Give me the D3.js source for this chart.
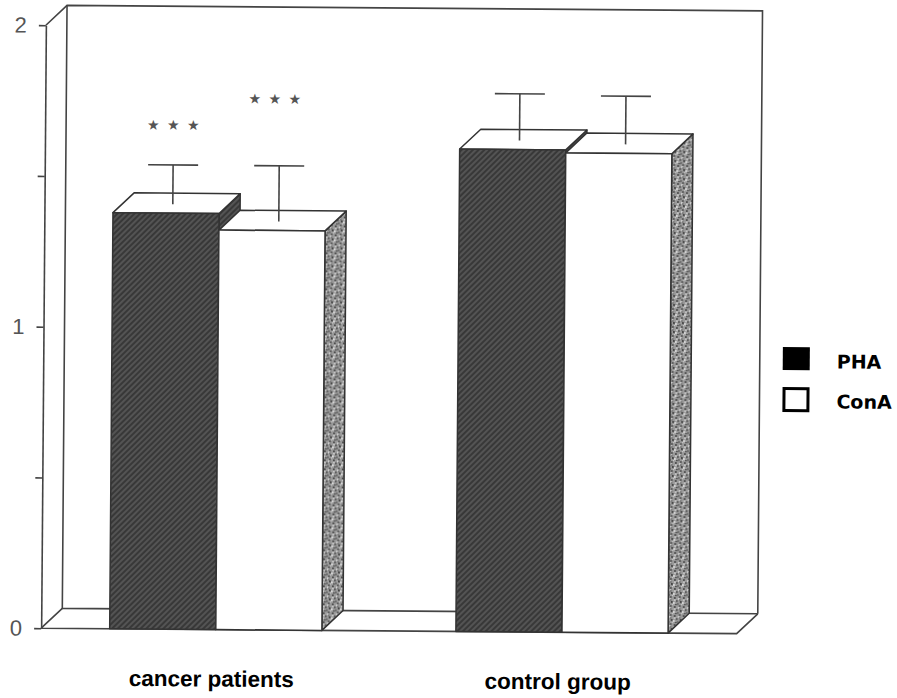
<!DOCTYPE html>
<html>
<head>
<meta charset="utf-8">
<script src="https://cdn.jsdelivr.net/npm/d3@7"></script>
<style>
  body { margin: 0; background: #fff; }
  svg { display: block; }
  .frame { fill: none; stroke: #444; stroke-width: 1.6; }
  .face { stroke: #333; stroke-width: 1.5; stroke-linejoin: round; }
  .err { stroke: #444; stroke-width: 1.6; fill: none; }
  .cat-label { font-family: "Liberation Sans", Arial, sans-serif; font-size: 22.5px; font-weight: bold; fill: #000; }
  .legend-label { font-family: "DejaVu Sans", sans-serif; font-size: 19px; font-weight: bold; fill: #000; }
</style>
</head>
<body>
<svg id="chart" width="897" height="698"></svg>
<script>
// data
const groups = ["cancer patients", "control group"];
const series = ["PHA", "ConA"];
const phaValues = [1.38, 1.60];
const conaValues = [1.325, 1.59];
const phaErrors = [0.13, 0.155];
const conaErrors = [0.185, 0.16];
// level of the "***" marks (null = none)
const phaStars = [1.643, null];
const conaStars = [1.732, null];
const yTicks = [0, 0.5, 1, 1.5, 2];

const width = 897, height = 698;
const depthX = 21, depthY = -20;

const svg = d3.select("#chart");

// the scanned figure is tilted a little
const root = svg.append("g").attr("transform", "rotate(0.45, 400, 330)");

const y = d3.scaleLinear().domain([0, 2]).range([631, 28]);
const x0 = d3.scaleBand().domain(groups).range([43.5, 739]).paddingInner(0.387).paddingOuter(0.198);
const x1 = d3.scaleBand().domain(series).range([0, x0.bandwidth()]);

// patterns
const defs = svg.append("defs");
const hatch = defs.append("pattern")
  .attr("id", "hatch")
  .attr("patternUnits", "userSpaceOnUse")
  .attr("width", 4).attr("height", 4)
  .attr("patternTransform", "rotate(45)");
hatch.append("rect").attr("width", 4).attr("height", 4).attr("fill", "#383838");
hatch.append("line").attr("x1", 1).attr("y1", 0).attr("x2", 1).attr("y2", 4)
  .attr("stroke", "#6a6a6a").attr("stroke-width", 1.1);

const stipple = defs.append("pattern")
  .attr("id", "stipple")
  .attr("patternUnits", "userSpaceOnUse")
  .attr("width", 9).attr("height", 9);
stipple.append("rect").attr("width", 9).attr("height", 9).attr("fill", "#9a9a9a");
const dots = [[1,1,"#444"],[5,2,"#d8d8d8"],[3,4,"#555"],[7,5,"#3a3a3a"],[0,6,"#e0e0e0"],[4,7,"#666"],[8,8,"#d0d0d0"],[6,0,"#555"],[2,8,"#444"],[1,3,"#ccc"],[6,3,"#777"]];
stipple.selectAll("rect.dot").data(dots).join("rect")
  .attr("class", "dot")
  .attr("x", d => d[0]).attr("y", d => d[1])
  .attr("width", 1.8).attr("height", 1.8)
  .attr("fill", d => d[2]);

// box: back wall, floor, left wall
const left = x0.range()[0], right = x0.range()[1];
const y0 = y(0), yTop = y(2);
root.append("path").attr("class", "frame")
  .attr("d", `M${left},${yTop}L${left + depthX},${yTop + depthY}L${right + depthX},${yTop + depthY}L${right + depthX},${y0 + depthY}`);
root.append("path").attr("class", "frame")
  .attr("d", `M${left + depthX},${yTop + depthY}L${left + depthX},${y0 + depthY}L${right + depthX},${y0 + depthY}`);
root.append("path").attr("class", "frame")
  .attr("d", `M${left},${y0}L${left + depthX},${y0 + depthY}M${left},${y0}L${right},${y0}L${right + depthX},${y0 + depthY}`);

// bar records
const bars = [];
groups.forEach((g, i) => {
  bars.push({ group: g, key: "PHA", value: phaValues[i], err: phaErrors[i], stars: phaStars[i] });
  bars.push({ group: g, key: "ConA", value: conaValues[i], err: conaErrors[i], stars: conaStars[i] });
});

const frontFill = { PHA: "url(#hatch)", ConA: "#fff" };
const sideFill = { PHA: "url(#hatch)", ConA: "url(#stipple)" };

const barG = root.append("g").selectAll("g").data(bars).join("g");

barG.each(function (d) {
  const g = d3.select(this);
  const xa = x0(d.group) + x1(d.key);
  const xb = xa + x1.bandwidth();
  const yt = y(d.value);
  g.append("polygon").attr("class", "face")
    .attr("fill", sideFill[d.key])
    .attr("points", [[xb, yt], [xb + depthX, yt + depthY], [xb + depthX, y0 + depthY], [xb, y0]].join(" "));
  g.append("polygon").attr("class", "face")
    .attr("fill", "#fff")
    .attr("points", [[xa, yt], [xb, yt], [xb + depthX, yt + depthY], [xa + depthX, yt + depthY]].join(" "));
  g.append("rect").attr("class", "face")
    .attr("fill", frontFill[d.key])
    .attr("x", xa).attr("y", yt)
    .attr("width", xb - xa).attr("height", y0 - yt);
});

// error bars sit on the top face
const errX = d => x0(d.group) + x1(d.key) + x1.bandwidth() / 2 + depthX * 0.32;
const errDy = depthY * 0.45;
const capW = 50;
const errG = root.append("g").selectAll("g").data(bars).join("g");
errG.append("line").attr("class", "err")
  .attr("x1", errX).attr("x2", errX)
  .attr("y1", d => y(d.value) + errDy)
  .attr("y2", d => y(d.value + d.err) + errDy);
errG.append("line").attr("class", "err")
  .attr("x1", d => errX(d) - capW / 2).attr("x2", d => errX(d) + capW / 2)
  .attr("y1", d => y(d.value + d.err) + errDy)
  .attr("y2", d => y(d.value + d.err) + errDy);

// significance stars
const starG = root.append("g").selectAll("g").data(bars.filter(d => d.stars != null)).join("g");
starG.selectAll("text").data(d => [-1, 0, 1].map(k => ({ d, k }))).join("text")
  .attr("x", o => errX(o.d) + o.k * 20 - (o.d.key === "ConA" ? 5 : 0))
  .attr("y", o => y(o.d.stars) + errDy)
  .attr("text-anchor", "middle")
  .attr("dominant-baseline", "central")
  .attr("font-family", "DejaVu Sans")
  .attr("font-size", 14)
  .attr("fill", "#555")
  .text("\u2605");

// y axis
const axis = d3.axisLeft(y)
  .tickValues(yTicks)
  .tickSize(7)
  .tickSizeOuter(0)
  .tickPadding(12)
  .tickFormat(d => Number.isInteger(d) ? d : "");
const ax = root.append("g").attr("transform", `translate(${left},0)`).call(axis);
ax.select(".domain").attr("stroke", "#444").attr("stroke-width", 1.6);
ax.selectAll(".tick line").attr("stroke", "#444").attr("stroke-width", 1.6);
ax.selectAll(".tick text")
  .style("font-family", "'Liberation Sans', Arial, sans-serif")
  .style("font-size", "22px")
  .attr("fill", "#555");

// category labels
root.append("g").selectAll("text").data(groups).join("text")
  .attr("class", "cat-label")
  .attr("x", d => x0(d) + x0.bandwidth() / 2 - 4)
  .attr("y", 688)
  .attr("text-anchor", "middle")
  .text(d => d);

// legend
const legend = root.append("g").attr("transform", "translate(783,344)");
const legItems = legend.selectAll("g").data(series).join("g")
  .attr("transform", (d, i) => `translate(0,${i * 40})`);
legItems.append("rect")
  .attr("x", d => d === "PHA" ? 0 : 1.5).attr("y", d => d === "PHA" ? 0 : 1.5)
  .attr("width", d => d === "PHA" ? 27 : 24).attr("height", d => d === "PHA" ? 23 : 22)
  .attr("fill", d => d === "PHA" ? "#000" : "#fff")
  .attr("stroke", d => d === "PHA" ? "none" : "#000")
  .attr("stroke-width", 3);
legItems.append("text")
  .attr("class", "legend-label")
  .attr("x", 54)
  .attr("y", 21)
  .text(d => d);
</script>
</body>
</html>
